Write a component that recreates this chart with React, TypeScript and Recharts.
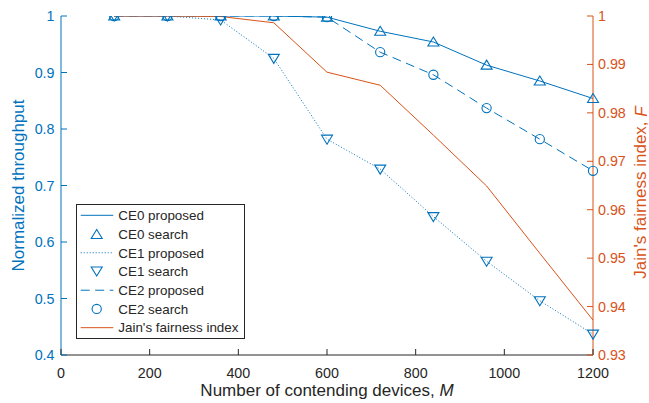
import React from 'react';
import { ComposedChart, Line, XAxis, YAxis, Legend } from 'recharts';

const devices = [120, 240, 360, 480, 600, 720, 840, 960, 1080, 1200];
const ce0Proposed = [1, 1, 1, 1, 0.998, 0.973, 0.954, 0.913, 0.885, 0.854];
const ce0Search = [1, 1, 1, 1, 0.998, 0.973, 0.954, 0.913, 0.885, 0.854];
const ce1Proposed = [1, 1, 0.993, 0.925, 0.782, 0.729, 0.645, 0.566, 0.496, 0.437];
const ce1Search = [1, 1, 0.993, 0.925, 0.782, 0.729, 0.645, 0.566, 0.496, 0.437];
const ce2Proposed = [1, 1, 1, 1, 0.998, 0.936, 0.896, 0.837, 0.782, 0.726];
const ce2Search = [1, 1, 1, 1, 0.998, 0.936, 0.896, 0.837, 0.782, 0.726];
const jainIndex = [1, 1, 0.9999, 0.9986, 0.9884, 0.9857, 0.9754, 0.9649, 0.951, 0.9372];

const xTicks = [0, 200, 400, 600, 800, 1000, 1200];
const leftTicks = [0.4, 0.5, 0.6, 0.7, 0.8, 0.9, 1];
const rightTicks = [0.93, 0.94, 0.95, 0.96, 0.97, 0.98, 0.99, 1];
const legendLabels = [
  'CE0 proposed',
  'CE0 search',
  'CE1 proposed',
  'CE1 search',
  'CE2 proposed',
  'CE2 search',
  "Jain's fairness index",
];

const BLUE = '#0072BD';
const ORANGE = '#D95319';
const DARK = '#262626';
const FONT = '"Liberation Sans", Arial, Helvetica, sans-serif';
const TICK_FS = 14.3;
const TITLE_FS = 17;

const data = devices.map((d, i) => ({
  m: d,
  ce0p: ce0Proposed[i],
  ce0s: ce0Search[i],
  ce1p: ce1Proposed[i],
  ce1s: ce1Search[i],
  ce2p: ce2Proposed[i],
  ce2s: ce2Search[i],
  jain: jainIndex[i],
}));

const TriUp = ({ cx, cy }: any) => (
  <path
    d={`M${cx},${cy - 5} L${cx + 5.5},${cy + 4} L${cx - 5.5},${cy + 4} Z`}
    fill="none"
    stroke={BLUE}
    strokeWidth={1.1}
  />
);
const TriDown = ({ cx, cy }: any) => (
  <path
    d={`M${cx},${cy + 5} L${cx + 5.5},${cy - 4} L${cx - 5.5},${cy - 4} Z`}
    fill="none"
    stroke={BLUE}
    strokeWidth={1.1}
  />
);
const Circ = ({ cx, cy }: any) => (
  <circle cx={cx} cy={cy} r={4.6} fill="none" stroke={BLUE} strokeWidth={1.1} />
);

const TICK = 6;

const BottomTick = ({ x, y, payload }: any) => (
  <g>
    <line x1={x} x2={x} y1={y} y2={y - TICK} stroke={DARK} strokeWidth={1} />
    <text x={x} y={y + 22.8} textAnchor="middle" fill={DARK} fontSize={TICK_FS} fontFamily={FONT}>
      {String(payload.value)}
    </text>
  </g>
);
const TopTick = ({ x, y }: any) => (
  <line x1={x} x2={x} y1={y} y2={y + TICK} stroke={DARK} strokeWidth={1} />
);
const LeftTick = ({ x, y, payload }: any) => (
  <g>
    <line x1={x} x2={x + TICK} y1={y} y2={y} stroke={BLUE} strokeWidth={1} />
    <text x={x - 6.5} y={y + 5} textAnchor="end" fill={BLUE} fontSize={TICK_FS} fontFamily={FONT}>
      {String(payload.value)}
    </text>
  </g>
);
const RightTick = ({ x, y, payload }: any) => (
  <g>
    <line x1={x} x2={x - TICK} y1={y} y2={y} stroke={ORANGE} strokeWidth={1} />
    <text x={x + 5} y={y + 5} textAnchor="start" fill={ORANGE} fontSize={TICK_FS} fontFamily={FONT}>
      {String(payload.value)}
    </text>
  </g>
);

const XTitle = ({ viewBox }: any) => {
  const cx = viewBox.x + viewBox.width / 2;
  return (
    <text x={cx} y={viewBox.y + 40.5} textAnchor="middle" fill={DARK} fontSize={TITLE_FS} fontFamily={FONT}>
      Number of contending devices, <tspan fontStyle="italic">M</tspan>
    </text>
  );
};
const LeftTitle = ({ viewBox }: any) => {
  const cx = viewBox.x + 18.5;
  const cy = viewBox.y + viewBox.height / 2;
  return (
    <text
      x={cx}
      y={cy}
      transform={`rotate(-90 ${cx} ${cy})`}
      textAnchor="middle"
      dominantBaseline="central"
      fill={BLUE}
      fontSize={TITLE_FS}
      fontFamily={FONT}
    >
      Normalized throughput
    </text>
  );
};
const RightTitle = ({ viewBox }: any) => {
  const cx = viewBox.x + 47.5;
  const cy = viewBox.y + viewBox.height / 2 + 7;
  return (
    <text
      x={cx}
      y={cy}
      transform={`rotate(-90 ${cx} ${cy})`}
      textAnchor="middle"
      dominantBaseline="central"
      fill={ORANGE}
      fontSize={TITLE_FS}
      fontFamily={FONT}
    >
      Jain's fairness index, <tspan fontStyle="italic">F</tspan>
    </text>
  );
};

const LegendBox = () => {
  const w = 169;
  const h = 135;
  const rowY = (i: number) => 11.3 + i * 18.73;
  const x1 = 4.7;
  const x2 = 37.3;
  const mx = 20.7;
  return (
    <svg width={w} height={h} style={{ display: 'block' }}>
      <rect x={0.5} y={0.5} width={w - 1} height={h - 1} fill="#fff" stroke={DARK} strokeWidth={1} />
      <line x1={x1} x2={x2} y1={rowY(0)} y2={rowY(0)} stroke={BLUE} strokeWidth={1} />
      <TriUp cx={mx} cy={rowY(1) + 0.5} />
      <line x1={x1} x2={x2} y1={rowY(2)} y2={rowY(2)} stroke={BLUE} strokeWidth={1} strokeDasharray="1 2" />
      <TriDown cx={mx} cy={rowY(3) - 0.5} />
      <line x1={x1} x2={x2} y1={rowY(4)} y2={rowY(4)} stroke={BLUE} strokeWidth={1} strokeDasharray="9 5.5" />
      <Circ cx={mx} cy={rowY(5)} />
      <line x1={x1} x2={x2} y1={rowY(6)} y2={rowY(6)} stroke={ORANGE} strokeWidth={1} />
      {legendLabels.map((t, i) => (
        <text key={t} x={42.3} y={rowY(i) + 4.8} fill={DARK} fontSize={13.4} fontFamily={FONT}>
          {t}
        </text>
      ))}
    </svg>
  );
};

export default function App() {
  return (
    <div style={{ position: 'absolute', left: 0, top: 0, background: '#fff' }}>
      <ComposedChart
        width={649}
        height={403}
        data={data}
        margin={{ top: 16, right: 0, bottom: 0, left: 0 }}
        style={{ fontFamily: FONT }}
      >
        <XAxis
          dataKey="m"
          type="number"
          domain={[0, 1200]}
          ticks={xTicks}
          height={48}
          tickSize={0}
          tickMargin={0}
          tickLine={false}
          axisLine={{ stroke: DARK, strokeWidth: 1 }}
          tick={<BottomTick />}
          interval={0}
          label={<XTitle />}
        />
        <XAxis
          xAxisId="top"
          dataKey="m"
          type="number"
          orientation="top"
          domain={[0, 1200]}
          ticks={xTicks}
          height={0}
          tickSize={0}
          tickMargin={0}
          tickLine={false}
          axisLine={{ stroke: DARK, strokeWidth: 1 }}
          tick={<TopTick />}
          interval={0}
        />
        <YAxis
          yAxisId="left"
          type="number"
          domain={[0.4, 1]}
          ticks={leftTicks}
          width={61}
          tickSize={0}
          tickMargin={0}
          tickLine={false}
          axisLine={{ stroke: BLUE, strokeWidth: 1 }}
          tick={<LeftTick />}
          interval={0}
          allowDataOverflow
          label={<LeftTitle />}
        />
        <YAxis
          yAxisId="right"
          orientation="right"
          type="number"
          domain={[0.93, 1]}
          ticks={rightTicks}
          width={56}
          tickSize={0}
          tickMargin={0}
          tickLine={false}
          axisLine={{ stroke: ORANGE, strokeWidth: 1 }}
          tick={<RightTick />}
          interval={0}
          allowDataOverflow
          label={<RightTitle />}
        />
        <Line yAxisId="left" dataKey="ce0p" stroke={BLUE} strokeWidth={1} dot={false} activeDot={false} isAnimationActive={false} />
        <Line yAxisId="left" dataKey="ce1p" stroke={BLUE} strokeWidth={1} strokeDasharray="1 2" dot={false} activeDot={false} isAnimationActive={false} />
        <Line yAxisId="left" dataKey="ce2p" stroke={BLUE} strokeWidth={1} strokeDasharray="9 5.5" dot={false} activeDot={false} isAnimationActive={false} />
        <Line yAxisId="right" dataKey="jain" stroke={ORANGE} strokeWidth={1} dot={false} activeDot={false} isAnimationActive={false} />
        <Line
          yAxisId="left"
          dataKey="ce0s"
          stroke="none"
          activeDot={false}
          isAnimationActive={false}
          dot={(p: any) => <TriUp key={`u${p.index}`} cx={p.cx} cy={p.cy} />}
        />
        <Line
          yAxisId="left"
          dataKey="ce1s"
          stroke="none"
          activeDot={false}
          isAnimationActive={false}
          dot={(p: any) => <TriDown key={`d${p.index}`} cx={p.cx} cy={p.cy} />}
        />
        <Line
          yAxisId="left"
          dataKey="ce2s"
          stroke="none"
          activeDot={false}
          isAnimationActive={false}
          dot={(p: any) => <Circ key={`c${p.index}`} cx={p.cx} cy={p.cy} />}
        />
        <Legend
          layout="vertical"
          align="center"
          verticalAlign="middle"
          wrapperStyle={{ left: 76, top: 204, width: 169, height: 135 }}
          content={() => <LegendBox />}
        />
      </ComposedChart>
    </div>
  );
}
